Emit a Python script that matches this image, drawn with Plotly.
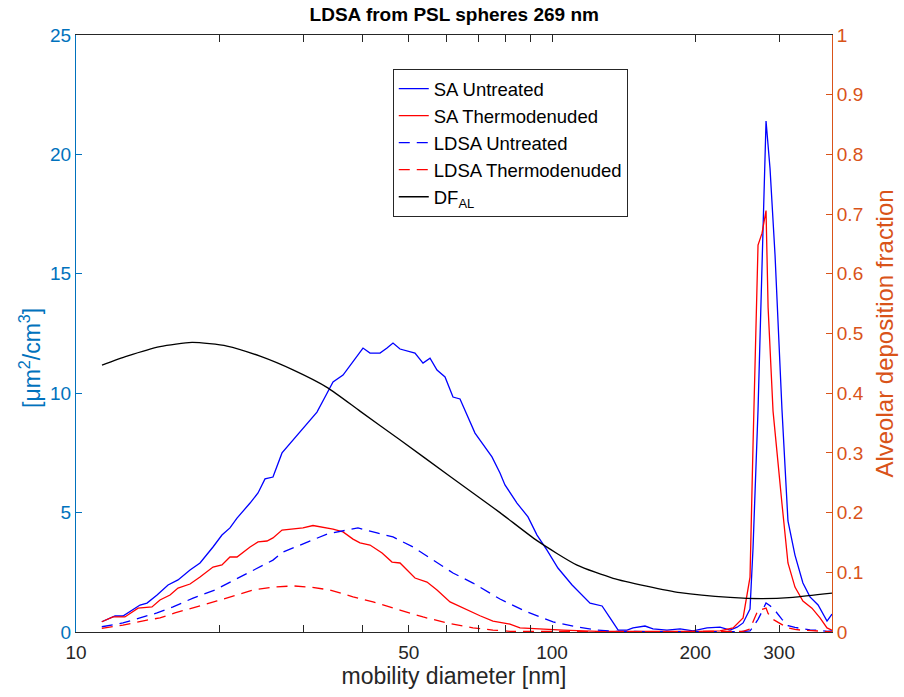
import plotly.graph_objects as go

# ---------------- data ----------------
d_sa_untreated = [11.33, 12.08, 12.55, 13.63, 14.10, 14.80, 15.61, 16.38, 17.36, 18.22,
                  19.40, 20.26, 21.06, 21.79, 23.21, 24.12, 24.95, 25.93, 27.09, 28.57,
                  30.57, 32.08, 33.68, 34.67, 36.39, 38.19, 40.08, 41.46, 43.52, 45.02,
                  46.34, 47.94, 51.54, 53.58, 55.43, 57.33, 59.60, 61.94, 64.08, 68.90,
                  74.79, 77.75, 79.65, 84.41, 89.03, 93.0, 97.6, 102.9, 110.2, 120.2,
                  127.4, 132.4, 137.7, 143.8, 148.0, 156.8, 163.0, 174.4, 185.8, 197.8,
                  211.7, 225.4, 236.6, 244.8, 252.0, 260.6, 264.4, 270.9, 276.2, 281.6,
                  287.1, 294.1, 304.2, 313.1, 323.9, 336.6, 348.3, 362.2, 378.2, 387.4]
sa_untreated = [0.43, 0.67, 0.67, 1.13, 1.21, 1.55, 1.97, 2.18, 2.60, 2.89,
                3.56, 4.06, 4.36, 4.77, 5.40, 5.82, 6.41, 6.49, 7.50, 8.04,
                8.75, 9.21, 10.0, 10.47, 10.76, 11.30, 11.89, 11.68, 11.68, 11.89,
                12.10, 11.85, 11.68, 11.26, 11.47, 10.97, 10.68, 9.84, 9.76, 8.33,
                7.33, 6.66, 6.16, 5.40, 4.82, 4.06, 3.43, 2.68, 1.97, 1.21,
                1.09, 0.59, 0.08, 0.08, 0.17, 0.25, 0.13, 0.08, 0.13, 0.05,
                0.17, 0.20, 0.08, 0.20, 0.38, 0.96, 3.5, 9.3, 15.1, 21.4,
                19.4, 15.8, 9.3, 4.65, 3.22, 2.05, 1.47, 1.13, 0.46, 0.75]

d_sa_thermo = [11.33, 11.96, 12.67, 13.50, 14.44, 15.01, 15.76, 16.38, 17.36, 18.22,
               19.40, 20.26, 21.06, 21.79, 23.21, 24.12, 25.19, 25.93, 27.09, 29.98,
               31.47, 33.03, 34.67, 36.39, 38.19, 39.50, 41.46, 43.95, 46.12, 47.94,
               51.54, 54.63, 57.33, 61.06, 66.29, 70.58, 75.15, 81.6, 85.65, 93.0,
               105.5, 125.0, 160.0, 205.0, 225.4, 240.1, 252.0, 260.6, 264.4, 270.9,
               276.2, 281.6, 284.4, 291.3, 304.2, 313.1, 323.9, 336.6, 351.6, 365.6,
               378.2, 387.4]
sa_thermo = [0.43, 0.63, 0.63, 1.00, 1.05, 1.34, 1.55, 1.84, 2.01, 2.30,
             2.72, 2.81, 3.14, 3.14, 3.56, 3.77, 3.81, 3.94, 4.27, 4.36,
             4.46, 4.40, 4.31, 4.19, 3.89, 3.73, 3.64, 3.31, 2.93, 2.89,
             2.26, 2.09, 1.76, 1.26, 0.92, 0.68, 0.46, 0.33, 0.17, 0.13,
             0.08, 0.03, 0.02, 0.03, 0.05, 0.17, 0.59, 2.3, 7.8, 16.2,
             16.7, 17.65, 13.6, 9.25, 5.36, 2.89, 1.88, 1.30, 1.00, 0.59,
             0.17, 0.08]

d_ldsa_untreated = [11.33, 12.55, 13.63, 14.80, 15.99, 17.62, 19.59, 21.06, 23.55, 25.93,
                    27.22, 30.57, 33.68, 37.10, 39.12, 42.89, 46.34, 51.05, 56.23, 61.94,
                    68.23, 73.0, 77.75, 88.59, 100.5, 112.9, 124.3, 134.4, 180.0, 252.0,
                    260.6, 264.4, 270.9, 276.2, 281.6, 287.1, 294.1, 304.2, 313.1, 323.9,
                    336.6, 348.3, 362.2, 378.2, 387.4]
ldsa_untreated = [0.22, 0.38, 0.59, 0.80, 1.05, 1.42, 1.76, 2.09, 2.60, 3.01,
                  3.35, 3.77, 4.10, 4.27, 4.36, 4.15, 3.98, 3.56, 3.01, 2.47,
                  2.05, 1.70, 1.38, 0.84, 0.42, 0.21, 0.08, 0.03, 0.01, 0.02,
                  0.05, 0.20, 0.53, 0.86, 1.22, 1.10, 0.90, 0.53, 0.27, 0.19,
                  0.12, 0.09, 0.07, 0.03, 0.05]

d_ldsa_thermo = [11.33, 12.55, 14.10, 15.01, 16.14, 17.96, 19.78, 21.79, 23.55, 25.93,
                 28.57, 31.01, 34.17, 38.19, 42.07, 47.94, 53.58, 60.18, 68.23, 75.15,
                 81.6, 150.0, 252.0, 260.6, 264.4, 270.9, 276.2, 281.6, 284.4, 291.3,
                 304.2, 313.1, 323.9, 336.6, 351.6, 365.6, 378.2, 387.4]
ldsa_thermo = [0.15, 0.29, 0.50, 0.59, 0.80, 1.05, 1.30, 1.55, 1.76, 1.88,
               1.93, 1.88, 1.76, 1.47, 1.26, 0.92, 0.63, 0.38, 0.17, 0.08,
               0.03, 0.01, 0.03, 0.13, 0.44, 0.92, 0.95, 1.00, 0.78, 0.53,
               0.31, 0.17, 0.11, 0.07, 0.06, 0.03, 0.01, 0.00]

d_df_al = [11.34, 12.80, 15.01, 17.53, 20.76, 24.36, 28.57, 33.8, 39.5, 47.9,
           61.0, 77.75, 93.0, 112.9, 134.4, 158.0, 185.8, 236.6, 276.2, 320.7, 387.4]
df_al = [0.447, 0.462, 0.478, 0.485, 0.479, 0.462, 0.439, 0.409, 0.370, 0.322,
         0.261, 0.200, 0.153, 0.112, 0.090, 0.077, 0.066, 0.058, 0.056, 0.058, 0.065]

x_tickvals = [10, 50, 100, 200, 300]
x_minor_ticks = [20, 30, 40, 60, 70, 80, 90]
y_left_ticks = [0, 5, 10, 15, 20, 25]
y_right_ticks = [0, 0.1, 0.2, 0.3, 0.4, 0.5, 0.6, 0.7, 0.8, 0.9, 1]
y_right_labels = ["0", "0.1", "0.2", "0.3", "0.4", "0.5", "0.6", "0.7", "0.8", "0.9", "1"]

# ---------------- styles ----------------
FONT = "Liberation Sans, Arial, sans-serif"
AX_DARK = "#262626"
LEFT_C = "#0072BD"
RIGHT_C = "#D95319"
DASH = "11px,7px"
TICK_SIZE = 19
LABEL_SIZE = 23

fig = go.Figure()
fig.add_trace(go.Scatter(x=d_sa_untreated, y=sa_untreated, mode="lines", name="SA Untreated",
                         line=dict(color="#0000FF", width=1.3)))
fig.add_trace(go.Scatter(x=d_sa_thermo, y=sa_thermo, mode="lines", name="SA Thermodenuded",
                         line=dict(color="#FF0000", width=1.3)))
fig.add_trace(go.Scatter(x=d_ldsa_untreated, y=ldsa_untreated, mode="lines", name="LDSA Untreated",
                         line=dict(color="#0000FF", width=1.3, dash=DASH)))
fig.add_trace(go.Scatter(x=d_ldsa_thermo, y=ldsa_thermo, mode="lines", name="LDSA Thermodenuded",
                         line=dict(color="#FF0000", width=1.3, dash=DASH)))
fig.add_trace(go.Scatter(x=d_df_al, y=df_al, mode="lines", name="DF<sub>AL</sub>", yaxis="y2",
                         line=dict(color="#000000", width=1.3, shape="spline", smoothing=0.6)))

fig.update_layout(
    width=904, height=697,
    margin=dict(l=76, r=72, t=35, b=65),
    paper_bgcolor="white", plot_bgcolor="white",
    font=dict(family=FONT, size=TICK_SIZE, color=AX_DARK),
    title=dict(text="<b>LDSA from PSL spheres 269 nm</b>", x=0.5025, xanchor="center",
               y=0.979, yanchor="middle", font=dict(family=FONT, size=19, color="#000000")),
    xaxis=dict(type="log", range=[1, 2.5882], showgrid=False, zeroline=False,
               showline=True, linecolor=AX_DARK, linewidth=1, mirror="allticks",
               ticks="inside", ticklen=7, tickcolor=AX_DARK, tickwidth=1,
               ticklabelstandoff=3,
               tickmode="array", tickvals=x_tickvals, ticktext=[str(v) for v in x_tickvals],
               tickfont=dict(family=FONT, size=TICK_SIZE, color=AX_DARK),
               minor=dict(tickmode="array", tickvals=x_minor_ticks, ticks="inside",
                          ticklen=4, tickcolor=AX_DARK, tickwidth=1, showgrid=False),
               title=dict(text="mobility diameter [nm]", standoff=6,
                          font=dict(family=FONT, size=LABEL_SIZE, color=AX_DARK))),
    yaxis=dict(range=[0, 25], showgrid=False, zeroline=False,
               showline=True, linecolor=LEFT_C, linewidth=1,
               ticks="inside", ticklen=6, tickcolor=LEFT_C, tickwidth=1,
               tickmode="array", tickvals=y_left_ticks,
               tickfont=dict(family=FONT, size=TICK_SIZE, color=LEFT_C)),
    yaxis2=dict(range=[0, 1], overlaying="y", side="right", showgrid=False, zeroline=False,
                showline=True, linecolor=RIGHT_C, linewidth=1,
                ticks="inside", ticklen=6, tickcolor=RIGHT_C, tickwidth=1,
                tickmode="array", tickvals=y_right_ticks, ticktext=y_right_labels,
                tickfont=dict(family=FONT, size=TICK_SIZE, color=RIGHT_C),
                title=dict(text="Alveolar deposition fraction", standoff=13,
                           font=dict(family=FONT, size=24, color=RIGHT_C))),
    legend=dict(x=0.419, y=0.943, xanchor="left", yanchor="top",
                bgcolor="white", bordercolor=AX_DARK, borderwidth=1,
                font=dict(family=FONT, size=18.5, color="#000000"),
                itemwidth=30, tracegroupgap=0),
    annotations=[dict(text="[μm<sup>2</sup>/cm<sup>3</sup>]", textangle=-90,
                      xref="paper", yref="paper", x=-0.0608, y=0.459,
                      xanchor="center", yanchor="middle", showarrow=False,
                      font=dict(family=FONT, size=LABEL_SIZE, color=LEFT_C))],
)

fig.write_html("out.html")
